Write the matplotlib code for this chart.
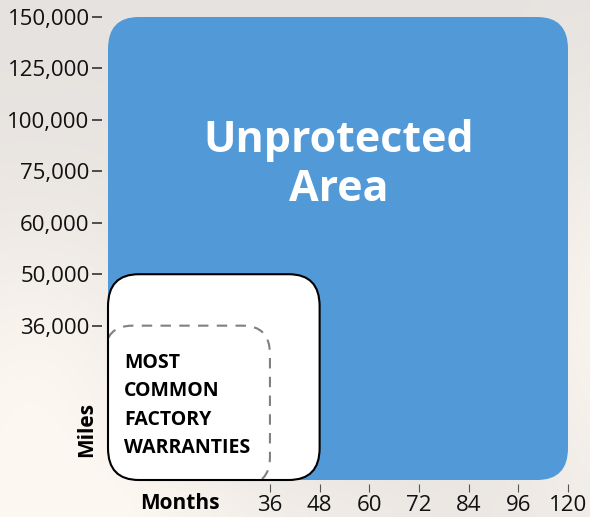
import numpy as np
from matplotlib import pyplot as plt
from matplotlib.patches import FancyBboxPatch

# tick labels, placed at equal steps (index positions)
months = [36, 48, 60, 72, 84, 96, 120]
miles = [36000, 50000, 60000, 75000, 100000, 125000, 150000]
month_pos = np.arange(3, 3 + len(months))
mile_pos = np.arange(3, 3 + len(miles))

# box extents, in tick positions
box_left = -0.26
unprotected = {"right": 120, "top": 150000}
factory_box = {"right": 48, "top": 50000}
common_box = {"right": 34.5, "top": 36000}

blue = "#5299d8"
plt.rcParams["font.family"] = ["Open Sans", "DejaVu Sans"]


def pos_x(m):
    return np.interp(m, months, month_pos)


def pos_y(v):
    return np.interp(v, miles, mile_pos)


fig = plt.figure(figsize=(5.9, 5.17), dpi=100)

# soft warm backdrop
bg = fig.add_axes([0, 0, 1, 1])
yy, xx = np.mgrid[0:517, 0:590]
glow = np.exp(-(((xx - 30) / 160.0) ** 2 + ((yy - 420) / 200.0) ** 2))
glow += 0.8 * np.exp(-(((xx - 600) / 90.0) ** 2 + ((yy - 330) / 220.0) ** 2))
glow += 0.5 * np.exp(-(((xx - 200) / 300.0) ** 2 + ((yy - 520) / 60.0) ** 2))
glow = np.clip(glow, 0, 1)[..., None]
base = np.array([230, 226, 223]) / 255.0
cream = np.array([252, 247, 240]) / 255.0
bg.imshow(base + glow * (cream - base), aspect="auto")
bg.axis("off")

ax = fig.add_axes([108 / 590, 37 / 517, 460 / 590, 463 / 517])
ax.set_xlim(box_left, month_pos[-1])
ax.set_ylim(0, mile_pos[-1])
ax.patch.set_alpha(0)

r = 0.62
ax.add_patch(FancyBboxPatch((box_left, 0), pos_x(unprotected["right"]) - box_left,
                            pos_y(unprotected["top"]),
                            boxstyle=f"round,pad=0,rounding_size={r}",
                            fc=blue, ec="none", clip_on=False, zorder=1))
fb = ((box_left, 0), pos_x(factory_box["right"]) - box_left, pos_y(factory_box["top"]))
white = FancyBboxPatch(*fb, boxstyle=f"round,pad=0,rounding_size={r}",
                       fc="white", ec="none", clip_on=False, zorder=2)
ax.add_patch(white)
dash_left = box_left - 0.06
dashed = FancyBboxPatch((dash_left, -0.1), pos_x(common_box["right"]) - dash_left,
                        pos_y(common_box["top"]) + 0.1,
                        boxstyle="round,pad=0,rounding_size=0.55",
                        fc="none", ec="#808080", lw=1.5, ls=(0, (5, 4)), zorder=3)
ax.add_patch(dashed)
dashed.set_clip_path(white)
ax.add_patch(FancyBboxPatch(*fb, boxstyle=f"round,pad=0,rounding_size={r}",
                            fc="none", ec="black", lw=1.5, clip_on=False, zorder=4))

ax.text(4.39, 6.12, "Unprotected\nArea", color="white", fontsize=31,
        fontweight="bold", ha="center", va="center", linespacing=1.17, zorder=5)
ax.text(0.06, 1.45, "MOST\nCOMMON\nFACTORY\nWARRANTIES", color="black",
        fontsize=14, fontweight="bold", ha="left", va="center",
        linespacing=1.55, zorder=5)

ax.set_xticks(month_pos)
ax.set_xticklabels([str(m) for m in months])
ax.set_yticks(mile_pos)
ax.set_yticklabels([f"{v:,}" for v in miles])
for s in ax.spines.values():
    s.set_visible(False)
ax.spines["left"].set_position(("outward", 4))
ax.spines["bottom"].set_position(("outward", 3))
ax.tick_params(axis="y", length=7.2, width=1.2, color="#333333", pad=2,
               labelsize=16, labelcolor="#111111")
ax.tick_params(axis="x", length=6, width=0.8, color="#555555", pad=2,
               labelsize=16, labelcolor="#111111")

ax.text(-0.046, 0.108, "Miles", transform=ax.transAxes, rotation=90,
        fontsize=15, fontweight="bold", ha="center", va="center")
ax.text(0.157, -0.05, "Months", transform=ax.transAxes,
        fontsize=15, fontweight="bold", ha="center", va="center")

fig.savefig("out.png", dpi=100)
